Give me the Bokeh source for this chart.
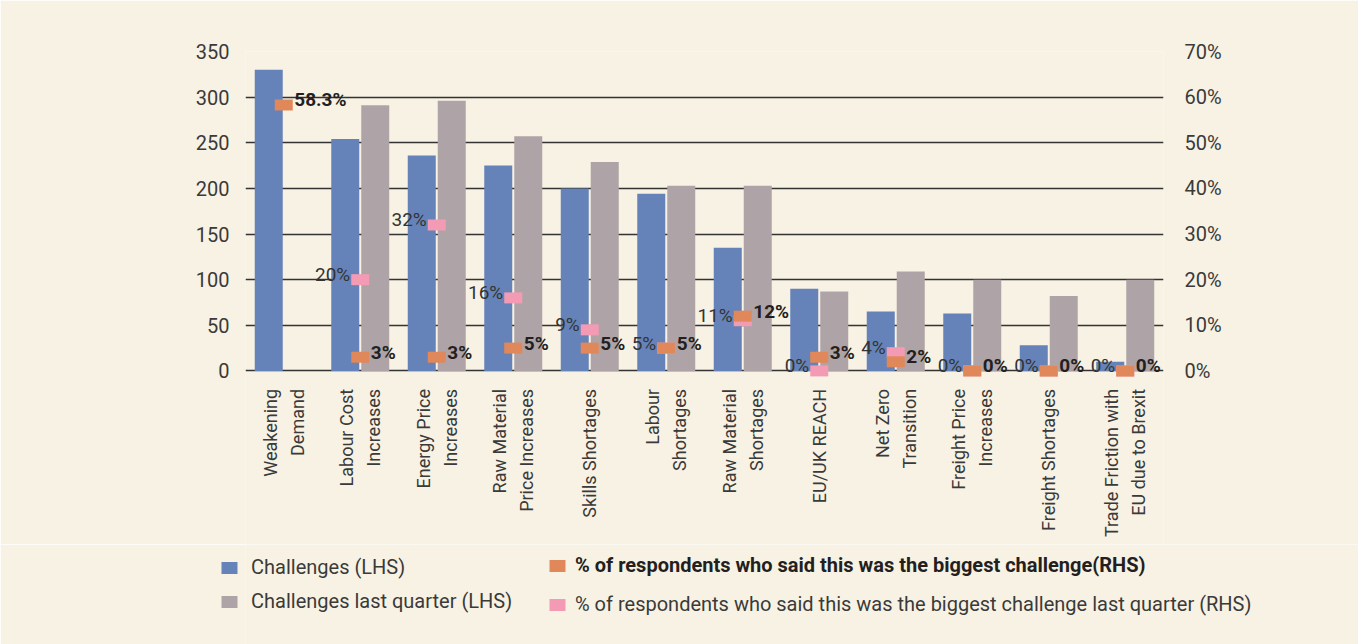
import math
import numpy as np
from bokeh.plotting import figure
from bokeh.layouts import column
from bokeh.models import (ColumnDataSource, FactorRange, Range1d, LinearAxis, FixedTicker,
                          PrintfTickFormatter, Legend, LegendItem, LabelSet)
from bokeh.transform import dodge
from bokeh.core.properties import value
from bokeh.embed import file_html
from bokeh.resources import INLINE

# ---------------- data ----------------
categories = ["Weakening Demand", "Labour Cost Increases", "Energy Price Increases",
              "Raw Material Price Increases", "Skills Shortages", "Labour Shortages",
              "Raw Material Shortages", "EU/UK REACH", "Net Zero Transition",
              "Freight Price Increases", "Freight Shortages",
              "Trade Friction with EU due to Brexit"]
tick_labels = ["Weakening\nDemand", "Labour Cost\nIncreases", "Energy Price\nIncreases",
               "Raw Material\nPrice Increases", "Skills Shortages", "Labour\nShortages",
               "Raw Material\nShortages", "EU/UK REACH", "Net Zero\nTransition",
               "Freight Price\nIncreases", "Freight Shortages",
               "Trade Friction with\nEU due to Brexit"]
challenges = [330, 254, 236, 225, 200, 194, 135, 90, 65, 63, 28, 10]
challenges_last_quarter = [np.nan, 291, 296, 257, 229, 203, 203, 87, 109, 100, 82, 100]
pct_biggest = [58.3, 3, 3, 5, 5, 5, 12, 3, 2, 0, 0, 0]
pct_biggest_last_quarter = [np.nan, 20, 32, 16, 9, 5, 11, 0, 4, 0, 0, 0]
left_ticks = [0, 50, 100, 150, 200, 250, 300, 350]
right_ticks = [0, 10, 20, 30, 40, 50, 60, 70]
series_names = ["Challenges (LHS)", "Challenges last quarter (LHS)",
                "% of respondents who said this was the biggest challenge(RHS)",
                "% of respondents who said this was the biggest challenge last quarter (RHS)"]

# ---------------- style / layout ----------------
BG = "#f8f2e4"
BLUE = "#6583b8"
GREY = "#aea4a7"
ORANGE = "#e0885a"
PINK = "#f39bb4"
FONT = "Roboto"
TXT = "#3a3a3a"
W = 1358
TOP = 51
LEGEND_H = 100
FRAME_H = 644 - TOP - LEGEND_H        # frame includes the category-label area
PX_PER_UNIT = 0.9126                  # pixels per LHS unit
Y_TOP = 350
Y_BOTTOM = Y_TOP - FRAME_H / PX_PER_UNIT
LABEL_GAP = 18                        # px between zero line and category labels


def fmt(v):
    return "" if np.isnan(v) else f"{v:g}%"


src = ColumnDataSource(dict(
    cat=categories,
    ch=np.array(challenges, dtype=float),
    chl=np.array(challenges_last_quarter, dtype=float),
    pb=np.array(pct_biggest, dtype=float),
    pbl=np.array(pct_biggest_last_quarter, dtype=float),
    pb_lbl=[fmt(v) for v in pct_biggest],
    pbl_lbl=[fmt(v) for v in pct_biggest_last_quarter],
))

# category label lines (one entry per text line)
lab_cat, lab_txt, lab_dx = [], [], []
for c, t in zip(categories, tick_labels):
    lines = t.split("\n")
    n = len(lines)
    for i, ln in enumerate(lines):
        lab_cat.append(c)
        lab_txt.append(ln)
        lab_dx.append((i - (n - 1) / 2) * 27)
lab_src = ColumnDataSource(dict(cat=lab_cat, txt=lab_txt, dx=lab_dx,
                                y=[-LABEL_GAP / PX_PER_UNIT] * len(lab_cat)))

p = figure(x_range=FactorRange(*categories), y_range=Range1d(Y_BOTTOM, Y_TOP),
           frame_width=918, frame_height=FRAME_H, x_axis_location=None,
           min_border_left=245, min_border_right=195, min_border_top=TOP,
           min_border_bottom=0,
           output_backend="svg", toolbar_location=None,
           background_fill_color=BG, border_fill_color=BG, outline_line_color=None)
p.extra_y_ranges = {"pct": Range1d(Y_BOTTOM / 5.0, Y_TOP / 5.0)}

# left axis
p.yaxis.ticker = FixedTicker(ticks=left_ticks)
p.yaxis.axis_line_color = None
p.yaxis.major_tick_line_color = None
p.yaxis.minor_tick_line_color = None
p.yaxis.major_label_standoff = 10
p.yaxis.major_label_text_font = FONT
p.yaxis.major_label_text_font_size = "20px"
p.yaxis.major_label_text_color = TXT

# right axis
ax_r = LinearAxis(y_range_name="pct", ticker=FixedTicker(ticks=right_ticks),
                  formatter=PrintfTickFormatter(format="%d%%"),
                  axis_line_color=None, major_tick_line_color=None, minor_tick_line_color=None,
                  major_label_standoff=15, major_label_text_font=FONT,
                  major_label_text_font_size="20px", major_label_text_color=TXT)
p.add_layout(ax_r, "right")

# grid
p.xgrid.grid_line_color = None
p.ygrid.grid_line_color = "#333333"
p.ygrid.grid_line_width = 1.4

# bars
p.vbar(x=dodge("cat", -0.196, range=p.x_range), top="ch", width=0.366, source=src,
       fill_color=BLUE, line_color=None)
p.vbar(x=dodge("cat", 0.196, range=p.x_range), top="chl", width=0.366, source=src,
       fill_color=GREY, line_color=None)

# markers
p.rect(x="cat", y="pbl", width=18, height=11, width_units="screen", height_units="screen",
       source=src, y_range_name="pct", fill_color=PINK, line_color=None)
p.rect(x="cat", y="pb", width=18, height=11, width_units="screen", height_units="screen",
       source=src, y_range_name="pct", fill_color=ORANGE, line_color=None)

# value labels
p.text(x="cat", y="pbl", text="pbl_lbl", source=src, y_range_name="pct",
       x_offset=-10, y_offset=-5, text_align="right", text_baseline="alphabetic",
       text_font=value(FONT), text_font_size="19px", text_color="#333333")
p.text(x="cat", y="pb", text="pb_lbl", source=src, y_range_name="pct",
       x_offset=10.5, y_offset=-5, text_align="left", text_baseline="alphabetic",
       text_font=value(FONT), text_font_size="19px", text_font_style="bold", text_color="#231f20")

# category labels (rotated, multi-line, on the categorical scale)
cat_labels = LabelSet(x="cat", y="y", text="txt", source=lab_src, x_offset="dx",
                      angle=math.pi / 2, text_align="right", text_baseline="middle",
                      text_font=value(FONT), text_font_size="18px", text_color=TXT)
p.add_layout(cat_labels)

# ---------------- legend strip ----------------
lf = figure(x_range=Range1d(0, 1), y_range=Range1d(0, 1),
            frame_width=W, frame_height=LEGEND_H, x_axis_location=None, y_axis_location=None,
            min_border_left=0, min_border_right=0, min_border_top=0, min_border_bottom=0,
            output_backend="svg", toolbar_location=None,
            background_fill_color=BG, border_fill_color=BG, outline_line_color=None)
lf.grid.visible = False
# key swatches: one off-screen point each so that the legend draws their glyphs
key_blue = lf.vbar(x=[-5], bottom=[-5], top=[-4], width=0.1, fill_color=BLUE, line_color=None)
key_grey = lf.vbar(x=[-5], bottom=[-5], top=[-4], width=0.1, fill_color=GREY, line_color=None)
key_orange = lf.rect(x=[-5], y=[-5], width=0.1, height=0.1, fill_color=ORANGE, line_color=None)
key_pink = lf.rect(x=[-5], y=[-5], width=0.1, height=0.1, fill_color=PINK, line_color=None)


def add_legend(renderer, label, loc, bold=False, standoff=12):
    leg = Legend(items=[LegendItem(label=value(label), renderers=[renderer])], location=loc,
                 padding=0, margin=0, spacing=0, border_line_color=None,
                 background_fill_alpha=0, glyph_width=20, glyph_height=15,
                 label_standoff=standoff, label_text_font=FONT, label_text_font_size="20px",
                 label_text_font_style="bold" if bold else "normal",
                 label_text_color="#231f20" if bold else TXT)
    lf.add_layout(leg)


add_legend(key_blue, series_names[0], (219, 65))
add_legend(key_grey, series_names[1], (219, 31))
add_legend(key_orange, series_names[2], (547, 67), bold=True, standoff=8)
add_legend(key_pink, series_names[3], (547, 28), standoff=8)

layout = column(p, lf, spacing=0)
open("out.html", "w").write(file_html(layout, INLINE))
